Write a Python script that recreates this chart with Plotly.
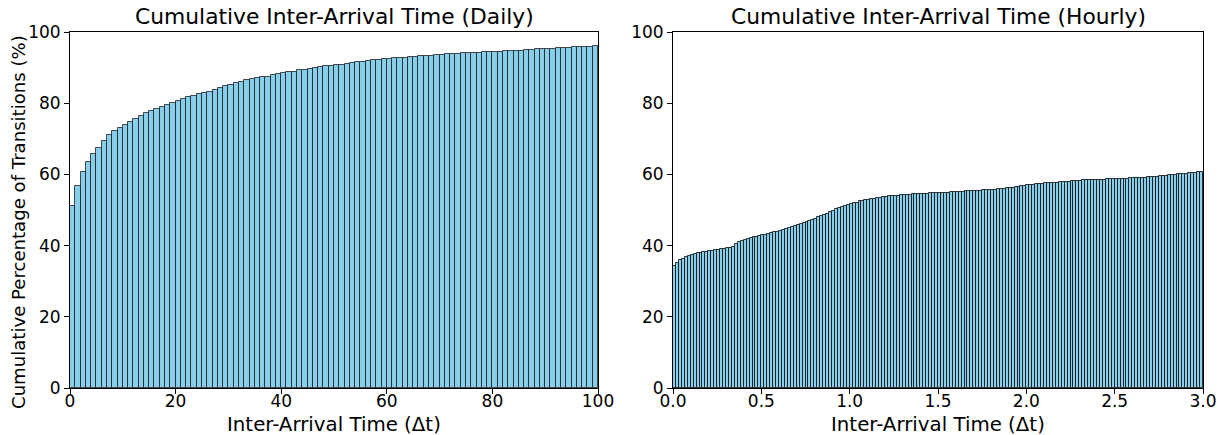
import plotly.graph_objects as go

# Daily cumulative percentages (bins of 1 day, 0..100)
daily_bin_width = 1.0
daily_cum_pct = [
    51.1, 56.7, 60.8, 63.6, 65.6, 67.5, 69.3, 71.0, 72.1, 72.9,
    73.8, 74.6, 75.5, 76.4, 77.3, 77.8, 78.4, 78.9, 79.5, 80.1,
    80.6, 81.2, 81.7, 82.1, 82.6, 82.9, 83.2, 83.7, 84.3, 84.7,
    85.2, 85.6, 86.0, 86.5, 86.9, 87.2, 87.4, 87.5, 87.9, 88.2,
    88.5, 88.7, 88.9, 89.2, 89.4, 89.7, 89.8, 90.1, 90.4, 90.5,
    90.6, 90.8, 91.1, 91.4, 91.5, 91.7, 91.9, 92.0, 92.1, 92.3,
    92.5, 92.6, 92.7, 92.8, 93.0, 93.1, 93.2, 93.3, 93.4, 93.5,
    93.6, 93.7, 93.8, 93.9, 94.0, 94.0, 94.1, 94.2, 94.3, 94.3,
    94.4, 94.5, 94.6, 94.6, 94.7, 94.8, 94.9, 95.0, 95.1, 95.2,
    95.3, 95.3, 95.4, 95.5, 95.6, 95.7, 95.8, 95.9, 95.9, 96.0,
]

# Hourly cumulative percentages (bins of 1 minute = 1/60 h, 0..3 h)
hourly_bin_width = 1.0 / 60.0
hourly_cum_pct = [
    34.3, 35.2, 35.9, 36.3, 36.7, 37.0, 37.3, 37.6, 37.8, 38.0,
    38.2, 38.3, 38.5, 38.6, 38.8, 38.9, 39.0, 39.1, 39.3, 39.4,
    39.6, 40.4, 41.0, 41.4, 41.7, 41.9, 42.1, 42.3, 42.5, 42.7,
    42.9, 43.1, 43.3, 43.5, 43.7, 43.9, 44.1, 44.4, 44.7, 45.0,
    45.3, 45.6, 45.8, 46.1, 46.4, 46.7, 47.0, 47.3, 47.6, 47.9,
    48.2, 48.6, 49.0, 49.4, 49.8, 50.2, 50.5, 50.8, 51.1, 51.4,
    51.7, 51.9, 52.1, 52.4, 52.6, 52.8, 52.9, 53.1, 53.2, 53.4,
    53.5, 53.6, 53.7, 53.8, 53.9, 54.0, 54.0, 54.1, 54.2, 54.2,
    54.3, 54.4, 54.4, 54.5, 54.5, 54.6, 54.6, 54.7, 54.7, 54.8,
    54.8, 54.8, 54.9, 54.9, 55.0, 55.0, 55.0, 55.1, 55.1, 55.2,
    55.2, 55.3, 55.3, 55.4, 55.4, 55.5, 55.5, 55.6, 55.6, 55.7,
    55.8, 55.9, 56.0, 56.1, 56.2, 56.3, 56.4, 56.6, 56.7, 56.8,
    56.9, 57.0, 57.1, 57.2, 57.3, 57.4, 57.5, 57.5, 57.6, 57.7,
    57.7, 57.8, 57.8, 57.9, 58.0, 58.1, 58.1, 58.2, 58.2, 58.3,
    58.3, 58.4, 58.4, 58.4, 58.5, 58.5, 58.5, 58.6, 58.6, 58.6,
    58.7, 58.7, 58.8, 58.8, 58.8, 58.9, 58.9, 58.9, 59.0, 59.1,
    59.1, 59.2, 59.3, 59.3, 59.4, 59.5, 59.6, 59.6, 59.7, 59.8,
    59.9, 60.0, 60.0, 60.1, 60.2, 60.3, 60.4, 60.5, 60.6, 60.7,
]

titles = ["Cumulative Inter-Arrival Time (Daily)", "Cumulative Inter-Arrival Time (Hourly)"]
x_label = "Inter-Arrival Time (\u0394t)"
y_label = "Cumulative Percentage of Transitions (%)"
y_ticks = [0, 20, 40, 60, 80, 100]
daily_x_ticks = [0, 20, 40, 60, 80, 100]
hourly_x_ticks = [0.0, 0.5, 1.0, 1.5, 2.0, 2.5, 3.0]

W, H = 1225, 435
L, R, T, B = 70, 22, 32, 47
PW, PH = W - L - R, H - T - B
FONT = "DejaVu Sans, Liberation Sans, sans-serif"
bar_color = "#87CEEB"
edge_color = "rgba(20,20,20,0.75)"
edge_color_dense = "rgba(10,10,10,0.8)"

daily_x = [(i + 0.5) * daily_bin_width for i in range(len(daily_cum_pct))]
hourly_x = [(i + 0.5) * hourly_bin_width for i in range(len(hourly_cum_pct))]

fig = go.Figure()
fig.add_trace(go.Bar(
    x=daily_x, y=daily_cum_pct, width=daily_bin_width,
    marker=dict(color=bar_color, line=dict(color=edge_color, width=1)),
    xaxis="x", yaxis="y", showlegend=False, hoverinfo="x+y",
))
fig.add_trace(go.Bar(
    x=hourly_x, y=hourly_cum_pct, width=hourly_bin_width,
    marker=dict(color=bar_color, line=dict(color=edge_color_dense, width=1)),
    xaxis="x2", yaxis="y2", showlegend=False, hoverinfo="x+y",
))

left_px = (70, 598)
right_px = (673, 1203)
left_dom = [(left_px[0] - L) / PW, (left_px[1] - L) / PW]
right_dom = [(right_px[0] - L) / PW, (right_px[1] - L) / PW]

axis_common = dict(
    showgrid=False, zeroline=False, showline=True, linecolor="black", linewidth=1,
    mirror=True, ticks="outside", ticklen=5, tickwidth=1, tickcolor="black",
    tickfont=dict(family=FONT, size=17, color="black"), automargin=False,
)
x_extra = dict(ticklabelstandoff=-7)

fig.update_layout(
    width=W, height=H,
    margin=dict(l=L, r=R, t=T, b=B, autoexpand=False),
    paper_bgcolor="white", plot_bgcolor="white",
    bargap=0,
    xaxis=dict(domain=left_dom, range=[0, 100], tickvals=daily_x_ticks, anchor="y", **axis_common, **x_extra),
    yaxis=dict(domain=[0, 1], range=[0, 100], tickvals=y_ticks, anchor="x", **axis_common),
    xaxis2=dict(domain=right_dom, range=[0, 3.0], tickvals=hourly_x_ticks, tickformat=".1f", anchor="y2", **axis_common, **x_extra),
    yaxis2=dict(domain=[0, 1], range=[0, 100], tickvals=y_ticks, anchor="x2", **axis_common),
)

def px_to_paper_x(px):
    return (px - L) / PW

def px_to_paper_y(py):
    return (H - B - py) / PH

annotations = []
for (a, b), t in zip([left_px, right_px], titles):
    cx = px_to_paper_x((a + b) / 2)
    annotations.append(dict(text=t, x=cx, y=px_to_paper_y(17), xref="paper", yref="paper",
                            xanchor="center", yanchor="middle", showarrow=False,
                            font=dict(family=FONT, size=21.8, color="black")))
    annotations.append(dict(text=x_label, x=cx, y=px_to_paper_y(424), xref="paper", yref="paper",
                            xanchor="center", yanchor="middle", showarrow=False,
                            font=dict(family=FONT, size=19.8, color="black")))
annotations.append(dict(text=y_label, x=px_to_paper_x(18), y=px_to_paper_y(222), xref="paper", yref="paper",
                        xanchor="center", yanchor="middle", textangle=-90, showarrow=False,
                        font=dict(family=FONT, size=18.1, color="black")))
fig.update_layout(annotations=annotations)

fig.write_html("out.html")
